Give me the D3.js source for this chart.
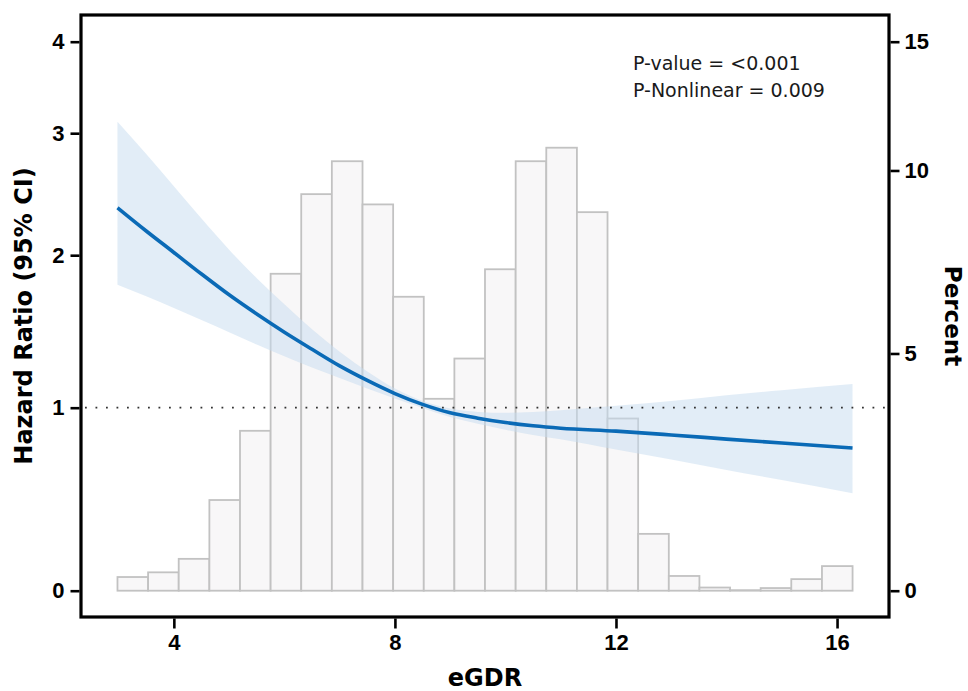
<!DOCTYPE html>
<html>
<head>
<meta charset="utf-8">
<script src="https://cdn.jsdelivr.net/npm/d3@7"></script>
<style>
  body { margin: 0; background: #fff; }
  svg { display: block; font-family: "DejaVu Sans", sans-serif; }
</style>
</head>
<body>
<svg id="chart" width="968" height="691"></svg>
<script>
// histogram of eGDR (percent per bin)
const binEdges = [2.980, 3.534, 4.088, 4.643, 5.197, 5.751, 6.305, 6.859, 7.414, 7.968, 8.522, 9.076,
    9.630, 10.185, 10.739, 11.293, 11.847, 12.401, 12.956, 13.510, 14.064, 14.618, 15.172, 15.727, 16.281];
const binPercent = [0.26, 0.35, 0.61, 1.78, 3.24, 7.00, 9.26, 10.30, 8.95, 6.40, 3.95, 4.88,
    7.12, 10.30, 10.75, 8.72, 3.51, 1.10, 0.28, 0.06, 0.01, 0.05, 0.22, 0.47];

// restricted cubic spline: hazard ratio with 95% CI
const egdr    = [2.98, 3.5, 4.0, 4.5, 5.0, 5.5, 6.0, 6.5, 7.0, 7.5, 8.0, 8.5, 9.0, 9.5, 10.0, 10.5,
    11.0, 12.0, 13.0, 14.0, 15.0, 16.28];
const hr      = [2.36, 2.18, 2.02, 1.865, 1.72, 1.59, 1.47, 1.36, 1.255, 1.165, 1.085, 1.02, 0.97, 0.938, 0.912, 0.893,
    0.879, 0.862, 0.84, 0.816, 0.793, 0.765];
const hrLower = [1.79, 1.71, 1.63, 1.55, 1.47, 1.39, 1.315, 1.245, 1.18, 1.115, 1.055, 0.998, 0.945, 0.905, 0.87, 0.84,
    0.815, 0.756, 0.70, 0.64, 0.585, 0.512];
const hrUpper = [3.11, 2.81, 2.535, 2.275, 2.04, 1.835, 1.655, 1.49, 1.345, 1.22, 1.115, 1.04, 0.995, 0.975, 0.97, 0.975,
    0.985, 1.012, 1.04, 1.075, 1.105, 1.143];

const xTicks = [4, 8, 12, 16];
const hrTicks = [0, 1, 2, 3, 4];
const pctTicks = [0, 5, 10, 15];
const pText = ["P-value = <0.001", "P-Nonlinear = 0.009"];

const svg = d3.select("#chart");
const frame = { left: 81, right: 889, top: 15, bottom: 617 };

const x = d3.scaleLinear()
    .domain([2.32, 16.94])
    .range([frame.left, frame.right]);

// the y axes are not linear: hazard ratio goes through a squashing transform,
// percent shares it (15 % lines up with HR 4)
const squash = v => v - v * v / 13;
const yT = d3.scaleLinear()
    .domain([0, squash(4)])
    .range([590.7, 41.7]);
const yHR = v => yT(squash(v));
const yPct = v => yHR(v * 4 / 15);

// bars
const bins = binPercent.map((p, i) => ({ x0: binEdges[i], x1: binEdges[i + 1], p: p }));
svg.append("g")
    .selectAll("rect")
    .data(bins)
    .enter().append("rect")
    .attr("x", d => x(d.x0))
    .attr("width", d => x(d.x1) - x(d.x0))
    .attr("y", d => yPct(d.p))
    .attr("height", d => yPct(0) - yPct(d.p))
    .style("fill", "#f8f7f8")
    .style("stroke", "#c2c2c2")
    .style("stroke-width", 1.8);

const curve = egdr.map((e, i) => ({ e: e, hr: hr[i], lo: hrLower[i], hi: hrUpper[i] }));

// confidence band
svg.append("path")
    .datum(curve)
    .attr("d", d3.area()
        .x(d => x(d.e))
        .y0(d => yHR(d.lo))
        .y1(d => yHR(d.hi))
        .curve(d3.curveMonotoneX))
    .style("fill", "#c6dcf0")
    .style("fill-opacity", 0.5);

// reference line HR = 1
svg.append("line")
    .attr("x1", frame.left + 4)
    .attr("x2", frame.right - 2)
    .attr("y1", yHR(1))
    .attr("y2", yHR(1))
    .style("stroke", "#333")
    .style("stroke-width", 1.8)
    .style("stroke-dasharray", "1.8,8.7");

// HR curve
svg.append("path")
    .datum(curve)
    .attr("d", d3.line()
        .x(d => x(d.e))
        .y(d => yHR(d.hr))
        .curve(d3.curveMonotoneX))
    .style("fill", "none")
    .style("stroke", "#0a6ab6")
    .style("stroke-width", 3.6);

// box
svg.append("rect")
    .attr("x", frame.left)
    .attr("y", frame.top)
    .attr("width", frame.right - frame.left)
    .attr("height", frame.bottom - frame.top)
    .style("fill", "none")
    .style("stroke", "#000")
    .style("stroke-width", 3.2);

function styleAxis(g) {
    g.select(".domain").remove();
    g.selectAll(".tick line").style("stroke", "#000").style("stroke-width", 2.6);
    g.selectAll(".tick text")
        .style("font-size", "22px")
        .style("font-weight", "bold")
        .style("fill", "#000");
}

svg.append("g")
    .attr("transform", `translate(${frame.left - 1.5},0)`)
    .call(d3.axisLeft(yT)
        .tickValues(hrTicks.map(squash))
        .tickFormat((d, i) => hrTicks[i])
        .tickSize(9)
        .tickPadding(6))
    .call(styleAxis);

svg.append("g")
    .attr("transform", `translate(${frame.right + 1.5},0)`)
    .call(d3.axisRight(yT)
        .tickValues(pctTicks.map(p => squash(p * 4 / 15)))
        .tickFormat((d, i) => pctTicks[i])
        .tickSize(9)
        .tickPadding(5))
    .call(styleAxis);

svg.append("g")
    .attr("transform", `translate(0,${frame.bottom + 1.5})`)
    .call(d3.axisBottom(x)
        .tickValues(xTicks)
        .tickSize(10)
        .tickPadding(6))
    .call(styleAxis);

// titles
svg.append("text")
    .attr("transform", "translate(32,316) rotate(-90)")
    .attr("text-anchor", "middle")
    .style("font-size", "24px")
    .style("font-weight", "bold")
    .text("Hazard Ratio (95% CI)");

svg.append("text")
    .attr("transform", "translate(945,316) rotate(90)")
    .attr("text-anchor", "middle")
    .style("font-size", "23px")
    .style("font-weight", "bold")
    .text("Percent");

svg.append("text")
    .attr("x", (frame.left + frame.right) / 2)
    .attr("y", 686)
    .attr("text-anchor", "middle")
    .style("font-size", "24px")
    .style("font-weight", "bold")
    .text("eGDR");

svg.selectAll(".ptext")
    .data(pText)
    .enter().append("text")
    .attr("class", "ptext")
    .attr("x", 633)
    .attr("y", (d, i) => 70 + i * 27.3)
    .style("font-size", "19px")
    .style("fill", "#1a1a1a")
    .text(d => d);
</script>
</body>
</html>
